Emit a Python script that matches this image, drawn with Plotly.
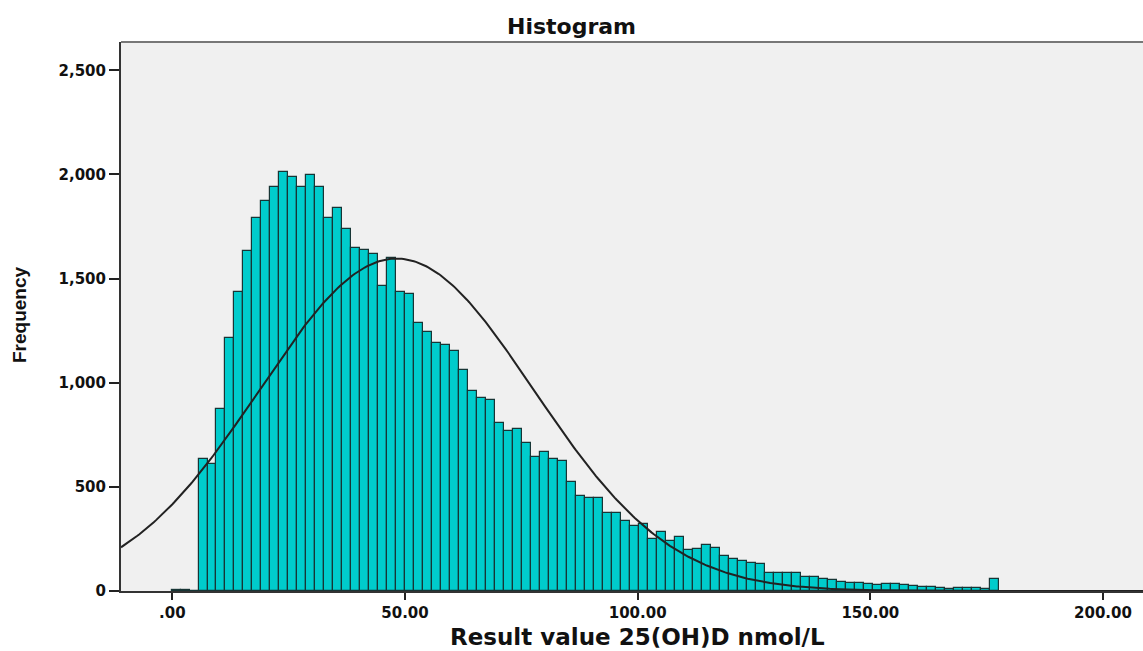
import numpy as np
import plotly.graph_objects as go

# ---- data ----
BIN_START = -0.17      # lower edge of first bin (nmol/L)
BIN_WIDTH = 1.932      # bin width (nmol/L)
counts = [
    4, 3, 0,
    634, 610, 874, 1214, 1435, 1632, 1790, 1872, 1939, 2011,
    1987, 1939, 1997, 1939, 1789, 1837, 1736, 1648, 1635, 1618,
    1466, 1598, 1437, 1424, 1288, 1242, 1189, 1182, 1150, 1059,
    961, 926, 917, 808, 770, 778, 709, 645, 666, 632,
    624, 522, 456, 445, 446, 373, 373, 338, 310, 323,
    252, 284, 240, 259, 197, 202, 219, 206, 167, 155,
    142, 136, 130, 88, 88, 88, 88, 69, 69, 58,
    53, 45, 38, 38, 32, 29, 35, 35, 29, 24,
    21, 21, 16, 11, 16, 16, 16, 11, 56,
]
CURVE_MEAN = 48.2
CURVE_SD = 29.4
N_TOTAL = sum(counts)

x_ticks = [0, 50, 100, 150, 200]
x_tick_labels = [".00", "50.00", "100.00", "150.00", "200.00"]
y_ticks = [0, 500, 1000, 1500, 2000, 2500]
y_tick_labels = ["0", "500", "1,000", "1,500", "2,000", "2,500"]

X_RANGE = [-11.03, 208.6]
Y_RANGE = [0, 2636]

fig = go.Figure()
fig.add_trace(go.Bar(
    x0=BIN_START + BIN_WIDTH / 2, dx=BIN_WIDTH, y=counts, width=BIN_WIDTH,
    marker=dict(color="#00CCCC", line=dict(color="#173535", width=1.2)),
    showlegend=False, hoverinfo="y",
))

xs = np.linspace(X_RANGE[0], X_RANGE[1], 500)
ys = N_TOTAL * BIN_WIDTH / (CURVE_SD * np.sqrt(2 * np.pi)) * np.exp(-0.5 * ((xs - CURVE_MEAN) / CURVE_SD) ** 2)
fig.add_trace(go.Scatter(x=xs, y=ys, mode="lines", line=dict(color="#222222", width=2),
                         showlegend=False, hoverinfo="skip"))

tick_font = dict(family="DejaVu Sans", size=15, color="#111111", weight="bold")

fig.update_layout(
    width=1143, height=651,
    margin=dict(l=121, r=0, t=42, b=60),
    paper_bgcolor="white", plot_bgcolor="#F0F0F0",
    bargap=0,
    title=dict(text="<b>Histogram</b>", x=0.5, xanchor="center", y=1 - 26 / 651, yanchor="middle",
               yref="container", font=dict(family="DejaVu Sans", size=22, color="#111111")),
    xaxis=dict(
        range=X_RANGE, tickmode="array", tickvals=x_ticks, ticktext=x_tick_labels,
        ticks="outside", ticklen=7, tickwidth=2, tickcolor="#222222",
        showline=True, linecolor="#333333", linewidth=2, showgrid=False, zeroline=False,
        tickfont=tick_font, automargin=False,
    ),
    yaxis=dict(
        range=Y_RANGE, tickmode="array", tickvals=y_ticks, ticktext=y_tick_labels,
        ticks="outside", ticklen=10, tickwidth=2, tickcolor="#222222",
        showline=True, linecolor="#333333", linewidth=2, showgrid=False, zeroline=False,
        tickfont=tick_font, automargin=False,
    ),
    shapes=[dict(type="line", xref="paper", yref="paper", x0=0, x1=1, y0=1, y1=1,
                 line=dict(color="#777777", width=2))],
    annotations=[
        dict(text="<b>Result value 25(OH)D nmol/L</b>", xref="paper", yref="paper",
             x=(637 - 121) / 1022, y=(591 - 637) / 549, xanchor="center", yanchor="middle",
             showarrow=False, font=dict(family="DejaVu Sans", size=23, color="#111111")),
        dict(text="<b>Frequency</b>", xref="paper", yref="paper", textangle=-90,
             x=(19 - 121) / 1022, y=(591 - 315) / 549, xanchor="center", yanchor="middle",
             showarrow=False, font=dict(family="Liberation Sans Narrow, Liberation Sans", size=19,
                                        color="#111111")),
    ],
)

fig.write_html("out.html", config={"displayModeBar": False},
               post_script="document.body.style.margin='0';document.body.style.overflow='hidden';")
